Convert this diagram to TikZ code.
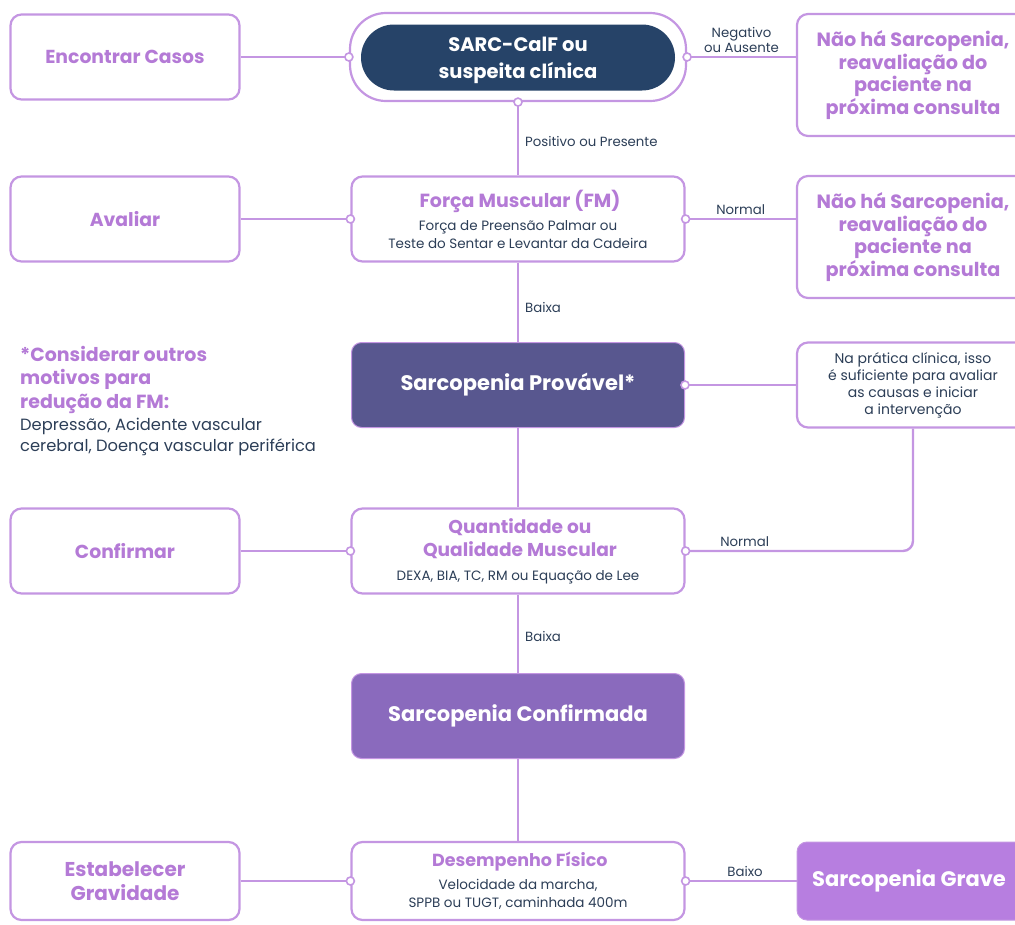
\documentclass[tikz,border=0pt]{standalone}
\usepackage{fontspec}
\setmainfont{Poppins}
\usetikzlibrary{positioning,calc}
\definecolor{sarcline}{RGB}{196,150,226}
\definecolor{sarcpurple}{RGB}{180,122,214}
\definecolor{sarcnavy}{RGB}{44,62,87}
\definecolor{sarcdark}{RGB}{38,67,104}
\definecolor{sarcslate}{RGB}{88,87,143}
\definecolor{sarcmid}{RGB}{138,106,189}
\definecolor{sarclight}{RGB}{183,126,224}
\newcommand{\headfont}[1]{\color{sarcpurple}\fontsize{#1}{22}\selectfont\bfseries}

\begin{document}
\begin{tikzpicture}[x=1pt,y=-1pt,
stage/.style={draw=sarcline, line width=2.2pt, rounded corners=11pt, fill=white,
minimum width=229pt, minimum height=85pt, align=center, text=sarcpurple,
font=\fontsize{18.8}{23}\selectfont\bfseries},
test/.style={draw=sarcline, line width=2.2pt, rounded corners=11pt, fill=white,
minimum width=333pt, minimum height=85pt, align=center, text=sarcnavy,
font=\fontsize{13.5}{18}\selectfont},
result/.style={draw=sarcline, line width=2.2pt, rounded corners=11pt, fill=white,
minimum width=232pt, align=center, text=sarcpurple,
font=\fontsize{19.2}{22.5}\selectfont\bfseries},
verdict/.style={draw=sarcline, line width=1pt, rounded corners=10pt,
minimum width=333pt, minimum height=85pt, align=center, text=white,
font=\fontsize{21}{24}\selectfont\bfseries},
lbl/.style={text=sarcnavy, font=\fontsize{13.3}{15}\selectfont, align=center, inner sep=3pt},
link/.style={draw=sarcline, line width=2.4pt},
dot/.style={circle, draw=sarcline, fill=white, line width=1.6pt, minimum size=8pt, inner sep=0pt}
]
\useasboundingbox (0,0) rectangle (1015,924);
\clip (0,0) rectangle (1015,924);

% left column
\node[stage] (find) at (125,57) {Encontrar Casos};
\node[stage] (assess) at (125,219) {Avaliar};
\node[stage] (confirm) at (125,551) {Confirmar};
\node[stage, minimum height=78pt, font=\fontsize{20}{24}\selectfont\bfseries] (grade) at (125,881)
{Estabelecer\\Gravidade};

% centre column
\node[draw=sarcline, line width=2.2pt, rounded corners=36pt, fill=white,
minimum width=336pt, minimum height=88pt] (screen) at (518,57) {};
\node[fill=sarcdark, rounded corners=33pt, minimum width=314pt, minimum height=66pt] (screenpill) at (518,57.5) {};
\node[align=center, text=white, font=\fontsize{19.5}{27}\selectfont\bfseries] (screentxt) at (518,60.5)
{SARC-CalF ou\\suspeita clínica};

\node[test] (strength) at (518,219)
{{\headfont{19} Força Muscular (FM)}\\[5pt]
Força de Preensão Palmar ou\\Teste do Sentar e Levantar da Cadeira};

\node[verdict, fill=sarcslate] (probable) at (518,385) {Sarcopenia Provável*};

\node[test] (quantity) at (518,551)
{{\headfont{18.6} Quantidade ou}\\[5pt]
{\headfont{18.6} Qualidade Muscular}\\[6pt]
DEXA, BIA, TC, RM ou Equação de Lee};

\node[verdict, fill=sarcmid] (confirmed) at (518,716) {Sarcopenia Confirmada};

\node[test, minimum height=78pt] (perform) at (518,881)
{{\headfont{17.5} Desempenho Físico}\\[5pt]
Velocidade da marcha,\\SPPB ou TUGT, caminhada 400m};

% right column
\node[result, minimum height=122pt] (none1) at (913,75)
{Não há Sarcopenia,\\reavaliação do\\paciente na\\próxima consulta};
\node[result, minimum height=122pt] (none2) at (913,237)
{Não há Sarcopenia,\\reavaliação do\\paciente na\\próxima consulta};
\node[result, minimum height=85pt, text=sarcnavy, font=\fontsize{14}{17}\selectfont] (practice) at (913,385)
{Na prática clínica, isso\\é suficiente para avaliar\\as causas e iniciar\\a intervenção};
\node[verdict, fill=sarclight, minimum width=232pt, minimum height=78pt] (severe) at (913,881)
{\hspace*{-4pt}Sarcopenia Grave\hspace*{4pt}};

% note
\node[anchor=north west, inner sep=0pt, align=left, text=sarcpurple,
font=\fontsize{19}{23.5}\selectfont\bfseries] (notehead) at (20,346)
{*Considerar outros\\motivos para\\redução da FM:};
\node[anchor=north west, inner sep=0pt, align=left, text=sarcnavy,
font=\fontsize{16.3}{21.5}\selectfont] (notebody) at ($(notehead.south west)+(0,4)$)
{Depressão, Acidente vascular\\cerebral, Doença vascular periférica};

% connectors
\draw[link] (find.east) -- (screen.west);
\draw[link] (screen.east) -- node[above, lbl]{Negativo\\ou Ausente} (screen.east -| none1.west);
\draw[link] (screen.south) -- node[right, lbl, xshift=3pt, yshift=-3pt]{Positivo ou Presente} (strength.north);
\draw[link] (assess.east) -- (strength.west);
\draw[link] (strength.east) -- node[above, lbl]{Normal} (strength.east -| none2.west);
\draw[link] (strength.south) -- node[right, lbl, xshift=3pt, yshift=-5pt]{Baixa} (probable.north);
\draw[link] (probable.east) -- (practice.west);
\draw[link] (probable.south) -- (quantity.north);
\draw[link] (confirm.east) -- (quantity.west);
\draw[link, rounded corners=10pt] (quantity.east) -- node[above, lbl, pos=0.26]{Normal}
(quantity.east -| practice.south) -- (practice.south);
\draw[link] (quantity.south) -- node[right, lbl, xshift=3pt, yshift=-3pt]{Baixa} (confirmed.north);
\draw[link] (confirmed.south) -- (perform.north);
\draw[link] (grade.east) -- (perform.west);
\draw[link] (perform.east) -- node[above, lbl, xshift=4pt]{Baixo} (severe.west);

% joints
\foreach \joint in {screen.west, screen.east, screen.south, strength.west, strength.east,
probable.east, quantity.west, quantity.east, perform.west, perform.east}
\node[dot] at (\joint) {};

\end{tikzpicture}
\end{document}
